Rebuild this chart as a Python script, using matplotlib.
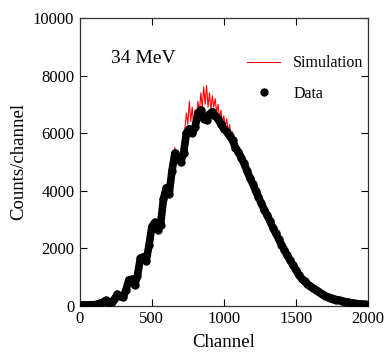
import numpy as np
import matplotlib
matplotlib.use("Agg")
import matplotlib.pyplot as plt

# canais e contagens
data_ch = np.arange(0, 2001, 20)
data_counts = [
    30, 30, 30, 30, 40, 40, 60, 90, 130, 190, 110,
    120, 230, 400, 330, 300, 550, 900, 920, 720, 1050,
    1650, 1700, 1550, 2100, 2750, 2900, 2650, 2800, 3700, 4100,
    3900, 4700, 5300, 5100, 5000, 5300, 6000, 6150, 6000, 6200,
    6700, 6800, 6500, 6450, 6650, 6750, 6600, 6500, 6300, 6150,
    6050, 5900, 5750, 5500, 5350, 5150, 4950, 4700, 4450, 4250,
    4000, 3780, 3560, 3340, 3150, 2950, 2720, 2520, 2330, 2130,
    1950, 1760, 1580, 1420, 1250, 1080, 950, 850, 760, 680,
    610, 550, 480, 420, 360, 310, 280, 250, 220, 200,
    170, 150, 130, 110, 95, 80, 70, 60, 50, 40,
]

# simulacao: passo mais fino na regiao do pico
sim_ch = np.concatenate([np.arange(0, 500, 20),
                         np.arange(500, 1201, 10),
                         np.arange(1220, 2001, 20)])
sim_counts = [
    30, 30, 30, 30, 40, 40, 60, 90, 130, 190, 110, 120, 230, 400, 330,
    300, 550, 900, 920, 680, 1050, 1650, 1700, 1500, 2100,
    2700, 2950, 2800, 3000, 2600, 2900, 2750, 3300, 3700, 4050,
    4200, 3850, 4300, 3900, 4800, 5200, 5500, 5100, 5400, 5000,
    5300, 5100, 5600, 6200, 6700, 6300, 7100, 6400, 6900, 6300,
    6800, 6500, 7100, 6700, 7400, 6900, 7600, 7000, 7650, 6900,
    7400, 6800, 7300, 6900, 7200, 6700, 7000, 6500, 6800, 6300,
    6600, 6200, 6500, 6000, 6300, 5800, 6050, 5600, 5800, 5400,
    5550, 5200, 5300, 5000, 5050, 4800, 4800, 4550, 4550, 4350, 4300,
    4050, 3800, 3600, 3350, 3150, 2950, 2750, 2550, 2330, 2150,
    1960, 1780, 1600, 1430, 1270, 1100, 960, 860, 770, 690,
    620, 560, 490, 430, 370, 320, 280, 250, 220, 200,
    170, 150, 130, 110, 95, 80, 70, 60, 50, 40,
]

plt.rcParams['font.family'] = ['Liberation Serif', 'DejaVu Serif']

fig = plt.figure(figsize=(3.84, 3.59), dpi=100)
ax = fig.add_axes([0.208, 0.148, 0.75, 0.802])

ax.plot(sim_ch, sim_counts, color='red', lw=0.8, label='Simulation', zorder=2)
ax.plot(data_ch, data_counts, color='black', lw=5.5, solid_capstyle='round',
        solid_joinstyle='round', zorder=3)
ax.plot(data_ch, data_counts, 'o', color='black', ms=5, label='Data', zorder=3)

ax.set_xlim(0, 2000)
ax.set_ylim(0, 10000)
ax.set_xticks([0, 500, 1000, 1500, 2000])
ax.set_yticks([0, 2000, 4000, 6000, 8000, 10000])
ax.tick_params(direction='in', top=True, right=True, length=5, labelsize=12, pad=4)
for s in ax.spines.values():
    s.set_linewidth(0.9)
    s.set_color('#333333')

ax.set_xlabel('Channel', fontsize=13.5, labelpad=5)
ax.set_ylabel('Counts/channel', fontsize=13.5, labelpad=4)
ax.text(215, 8600, '34 MeV', fontsize=14, va='center')

ax.legend(loc='upper left', bbox_to_anchor=(0.53, 0.92), frameon=False,
          fontsize=11.5, handlelength=2.1, labelspacing=0.9, handletextpad=0.8)

fig.savefig('out.png', dpi=100)
